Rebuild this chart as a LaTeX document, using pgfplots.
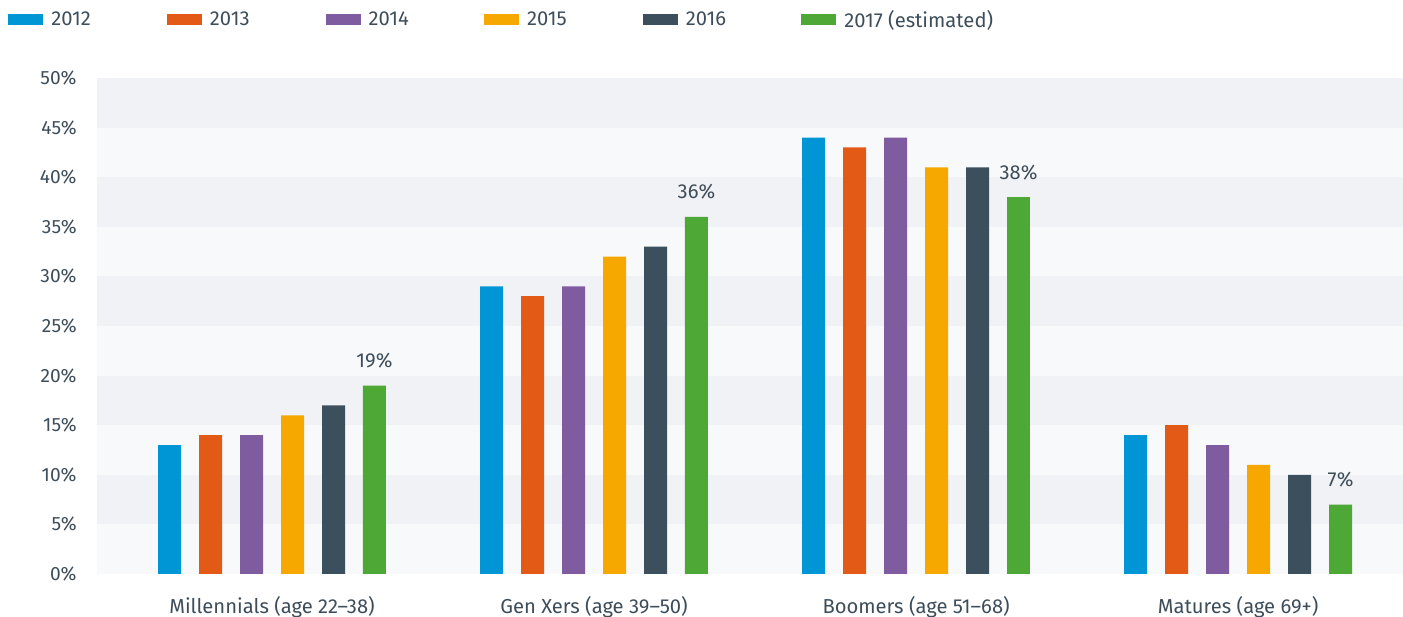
\documentclass[border=0pt]{standalone}
\usepackage{fontspec}
\setmainfont{Fira Sans}
\usepackage{pgfplots}
\usepackage{pgfplotstable}
\pgfplotsset{compat=1.18}

\definecolor{c2012}{HTML}{0096D6}
\definecolor{c2013}{HTML}{E35A17}
\definecolor{c2014}{HTML}{7F5BA0}
\definecolor{c2015}{HTML}{F7A800}
\definecolor{c2016}{HTML}{3C4F5D}
\definecolor{c2017}{HTML}{4EA836}
\definecolor{txt}{HTML}{3D4D5A}
\definecolor{bandA}{HTML}{F8F9FB}
\definecolor{bandB}{HTML}{F1F2F6}

\pgfplotsset{
  mybar/.style={draw=none, bar width=0.0714,
    legend image code/.code={\fill[##1] (0pt,-2.75pt) rectangle (17.5pt,2.75pt);}},
}

\pgfplotstableread{
x y2012 y2013 y2014 y2015 y2016 y2017
0 13 14 14 16 17 19
1 29 28 29 32 33 36
2 44 43 44 41 41 38
3 14 15 13 11 10 7
}\gens

\begin{document}
\begin{tikzpicture}[font=\fontsize{10.1}{12}\selectfont, text=txt]
\begin{axis}[
  scale only axis,
  width=653pt, height=248pt,
  ybar,
  xmin=-0.5435, xmax=3.512,
  ymin=0, ymax=50,
  axis line style={draw=none},
  major tick length=0pt,
  xtick={0,1,2,3},
  xticklabels={Millennials (age 22--38), Gen Xers (age 39--50), Boomers (age 51--68), Matures (age 69+)},
  ytick={0,5,...,50},
  yticklabel={\pgfmathprintnumber{\tick}\%},
  /pgf/number format/assume math mode=true,
  yticklabel style={inner sep=0pt, xshift=-10pt, text=txt, font=\fontsize{9.6}{11}\selectfont},
  xticklabel style={inner sep=0pt, yshift=-11pt, text=txt},
  legend columns=6,
  legend style={draw=none, fill=none, inner sep=0pt,
    at={(0,1)}, anchor=west, xshift=-44.5pt, yshift=29pt,
    nodes={inner sep=0pt, text=txt},
    /tikz/every odd column/.append style={column sep=4pt}},
]
\pgfplotsinvokeforeach{0,10,20,30,40}{
  \fill[bandA] (axis cs:-1,#1) rectangle (axis cs:5,#1+5);
  \fill[bandB] (axis cs:-1,#1+5) rectangle (axis cs:5,#1+10);
}
\addplot[mybar, fill=c2012, bar shift=-0.318] table[x=x, y=y2012] {\gens};
\addlegendentry{\makebox[57.8pt][l]{2012}}
\addplot[mybar, fill=c2013, bar shift=-0.191] table[x=x, y=y2013] {\gens};
\addlegendentry{\makebox[57.8pt][l]{2013}}
\addplot[mybar, fill=c2014, bar shift=-0.0637] table[x=x, y=y2014] {\gens};
\addlegendentry{\makebox[57.8pt][l]{2014}}
\addplot[mybar, fill=c2015, bar shift=0.0637] table[x=x, y=y2015] {\gens};
\addlegendentry{\makebox[57.8pt][l]{2015}}
\addplot[mybar, fill=c2016, bar shift=0.191] table[x=x, y=y2016] {\gens};
\addlegendentry{\makebox[57.8pt][l]{2016}}
\addplot[mybar, fill=c2017, bar shift=0.318,
  nodes near coords={\pgfmathprintnumber{\pgfplotspointmeta}\%},
  every node near coord/.append style={inner sep=0pt, yshift=8.5pt, text=txt}]
  table[x=x, y=y2017] {\gens};
\addlegendentry{2017 (estimated)}
\end{axis}
\pgfresetboundingbox
\path[use as bounding box] ([xshift=-48.5pt,yshift=-21.5pt]current axis.south west) rectangle ([yshift=39pt]current axis.north east);
\end{tikzpicture}
\end{document}
